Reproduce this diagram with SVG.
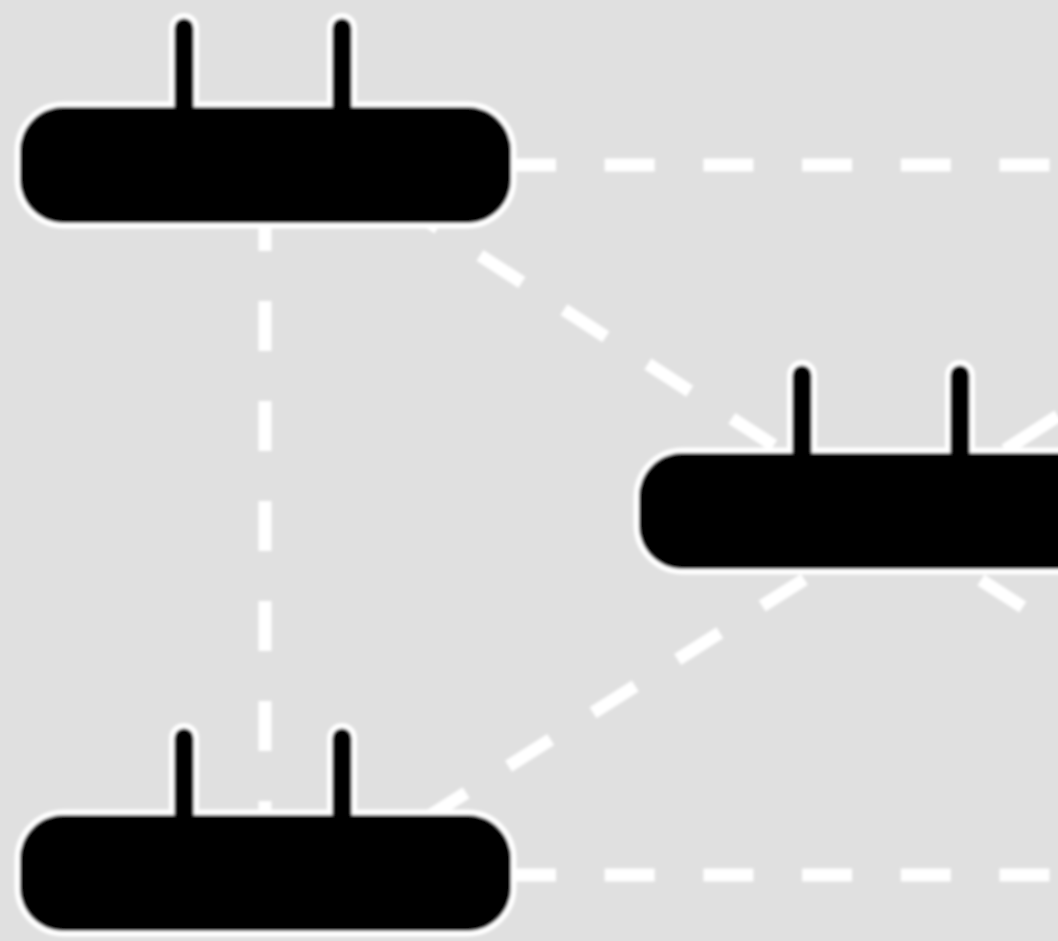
<svg xmlns="http://www.w3.org/2000/svg" width="1058" height="941" viewBox="0 0 1058 941">
<style>
.c{fill:none;stroke:#fff;stroke-width:13;stroke-dasharray:50 50}
.h{stroke-dasharray:50 48.7}
.u{stroke-dasharray:none}
.b{fill:#000;stroke:#fff;stroke-width:11;paint-order:stroke}
.p{fill:none;stroke:#fff;stroke-width:30;stroke-linecap:round}
.q{fill:none;stroke:#000;stroke-width:19;stroke-linecap:round}
</style>
<defs><filter id="s" x="-5%" y="-5%" width="110%" height="110%"><feGaussianBlur stdDeviation="1.7"/></filter></defs>
<rect width="1058" height="941" fill="#e0e0e0"/>
<g filter="url(#s)">
<g id="connectors">
<line class="c h" x1="506" y1="165" x2="1058" y2="165"/>
<line class="c h" x1="506" y1="875" x2="1058" y2="875"/>
<line class="c" x1="265" y1="201" x2="265" y2="830"/>
<line class="c" x1="396" y1="201" x2="790" y2="456"/>
<line class="c" x1="889" y1="526" x2="420" y2="822"/>
<line class="c u" x1="1005" y1="450" x2="1058" y2="416"/>
<line class="c" x1="897" y1="525.5" x2="1058" y2="630"/>
</g>
<g id="node1">
<path class="p" d="M184 28V110M342 28V110"/>
<rect class="b" x="20" y="107" width="491" height="116" rx="44"/>
<path class="q" d="M184 28V110M342 28V110"/>
</g>
<g id="node2">
<path class="p" d="M802 375V456M960 375V456"/>
<rect class="b" x="639" y="453" width="491" height="116" rx="44"/>
<path class="q" d="M802 375V456M960 375V456"/>
</g>
<g id="node3">
<path class="p" d="M184 738V816M342 738V816"/>
<rect class="b" x="20" y="815" width="491" height="116" rx="44"/>
<path class="q" d="M184 738V816M342 738V816"/>
</g>
</g>
</svg>
